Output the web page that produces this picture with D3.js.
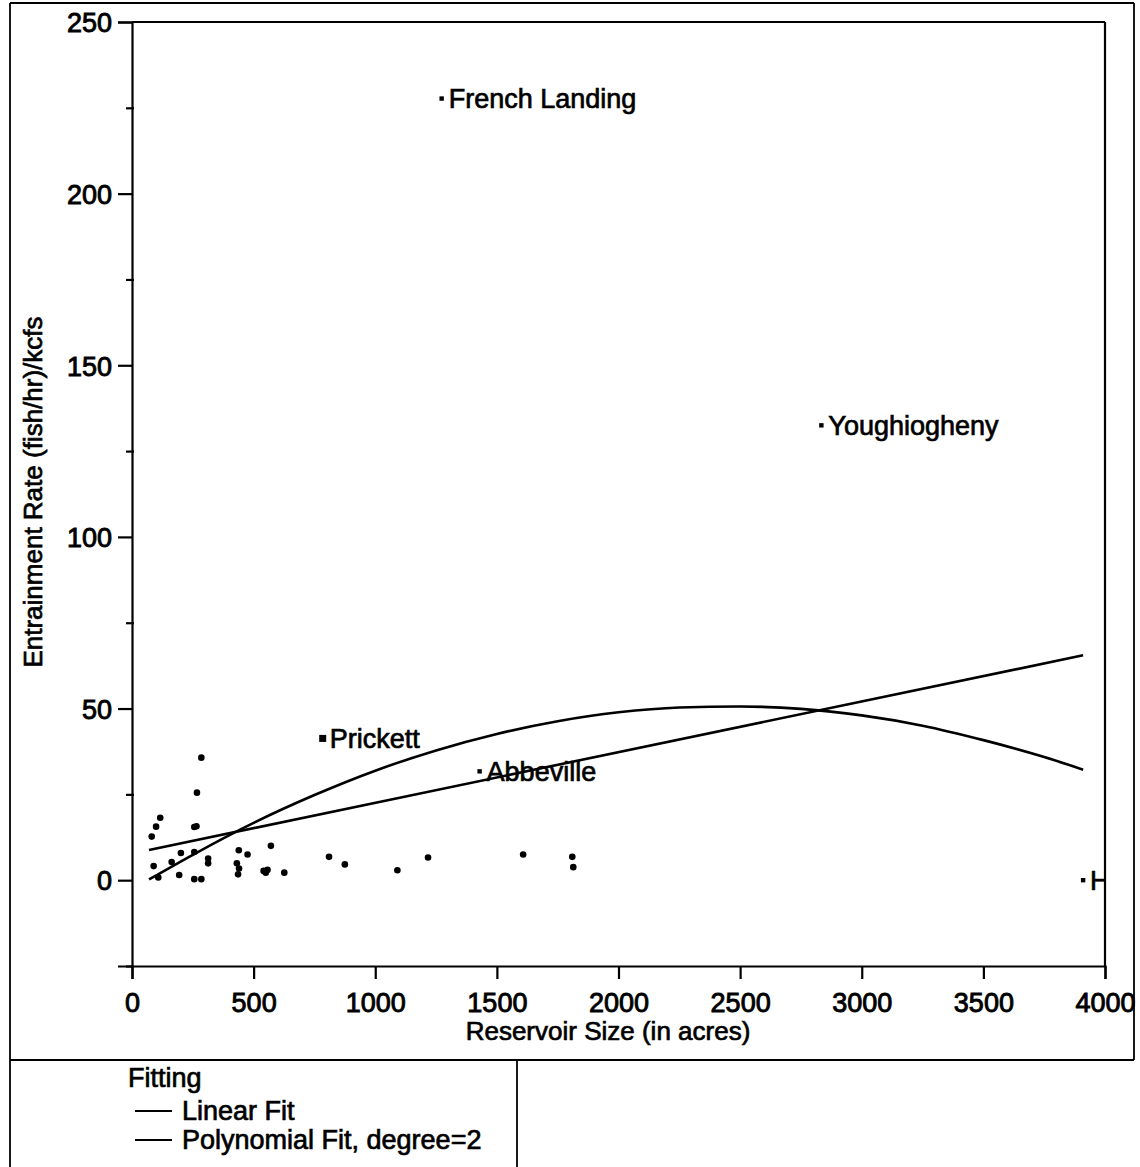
<!DOCTYPE html>
<html>
<head>
<meta charset="utf-8">
<script src="https://cdn.jsdelivr.net/npm/d3@7"></script>
<style>
  html, body { margin: 0; padding: 0; background: #fff; }
  svg text { font-family: "Liberation Sans", Arial, Helvetica, sans-serif; fill: #000; }
</style>
</head>
<body>
<svg id="chart" width="1140" height="1167"></svg>
<script>
// ---- data ----
const xTicks = [0, 500, 1000, 1500, 2000, 2500, 3000, 3500, 4000];
const yTicks = [0, 50, 100, 150, 200, 250];
const yMinorTicks = [-25, 25, 75, 125, 175, 225];

// unlabelled observations (reservoir size in acres, entrainment rate)
const pointX = [285, 267, 116, 99, 256, 265, 81, 201, 256, 89, 163, 108, 194, 256, 285,
                313, 313, 439, 475, 571, 431, 440, 436, 541, 550, 557, 626, 810, 875,
                1091, 1217, 1608, 1810, 1814];
const pointY = [35.7, 25.5, 18.2, 15.6, 15.5, 15.7, 12.7, 7.9, 8.2, 4.1, 5.3, 0.8, 1.5, 0.3, 0.3,
                6.3, 4.9, 8.7, 7.5, 10.0, 4.9, 3.4, 1.7, 2.7, 2.2, 3.0, 2.2, 6.8, 4.6,
                2.9, 6.6, 7.5, 6.8, 3.8];

// labelled observations
const labelNames = ["French Landing", "Youghiogheny", "Prickett", "Abbeville", "H"];
const labelX = [1273, 2834, 784, 1429, 3910];
const labelY = [227.7, 132.5, 41.3, 31.7, 0.0];

// fitted curves
const linearFitX = [70, 3910];
const linearFitY = [8.8, 65.5];
const polyFitX = [70, 250, 500, 750, 1000, 1250, 1500, 1750, 2000, 2250, 2500, 2750, 3000, 3250, 3500, 3750, 3910];
const polyFitY = [0.2, 7.4, 16.7, 24.8, 31.9, 37.8, 42.6, 46.3, 48.9, 50.3, 50.6, 49.9, 48.0, 45.0, 40.8, 35.9, 32.2];

const legendTitle = "Fitting";
const legendItems = ["Linear Fit", "Polynomial Fit, degree=2"];
const xTitle = "Reservoir Size (in acres)";
const yTitle = "Entrainment Rate (fish/hr)/kcfs";

// ---- drawing ----
const svg = d3.select("#chart");
const FONT = 27;
const TFONT = 26;
const pL = 132, pR = 1105, pT = 22, pB = 966;

const x = d3.scaleLinear().domain([0, 4000]).range([pL, pR]);
const y = d3.scaleLinear().domain([-25, 250]).range([pB, pT]);

// outer frames
const frame = svg.append("g").attr("fill", "none").attr("stroke", "#000").attr("stroke-width", 1.8);
frame.append("line").attr("x1", 10).attr("x2", 1134).attr("y1", 3).attr("y2", 3);
frame.append("line").attr("x1", 10).attr("x2", 10).attr("y1", 3).attr("y2", 1167);
frame.append("line").attr("x1", 1134).attr("x2", 1134).attr("y1", 3).attr("y2", 1060);
frame.append("line").attr("x1", 10).attr("x2", 1134).attr("y1", 1060).attr("y2", 1060);
frame.append("line").attr("x1", 517).attr("x2", 517).attr("y1", 1060).attr("y2", 1167);

// plot box top and right
frame.append("line").attr("x1", pL).attr("x2", pR).attr("y1", pT).attr("y2", pT).attr("stroke-width", 2.2);
frame.append("line").attr("x1", pR).attr("x2", pR).attr("y1", pT).attr("y2", pB).attr("stroke-width", 2.2);

// axes
const yAxis = svg.append("g").attr("transform", `translate(${pL},0)`)
  .call(d3.axisLeft(y).tickValues(yTicks).tickSize(14).tickPadding(6).tickFormat(d3.format("d")));
const yMinor = svg.append("g").attr("transform", `translate(${pL + 2},0)`)
  .call(d3.axisLeft(y).tickValues(yMinorTicks).tickSize(8).tickFormat(""));
yMinor.select(".domain").remove();

const xAxis = svg.append("g").attr("transform", `translate(0,${pB})`)
  .call(d3.axisBottom(x).tickValues(xTicks).tickSize(13).tickPadding(14).tickFormat(d3.format("d")));

[yAxis, xAxis, yMinor].forEach(g => {
  g.selectAll("path.domain").attr("stroke", "#000").attr("stroke-width", 2.2);
  g.selectAll(".tick line").attr("stroke", "#000").attr("stroke-width", 2.2);
  g.selectAll(".tick text").attr("font-size", FONT).attr("font-family", "Liberation Sans, Arial, sans-serif")
    .attr("fill", "#000").attr("stroke", "#000").attr("stroke-width", 0.9);
});
yAxis.selectAll(".tick text").attr("dy", "0.36em");

// axis titles
svg.append("text").attr("x", 608).attr("y", 1040)
  .attr("text-anchor", "middle").attr("font-size", TFONT)
  .attr("stroke", "#000").attr("stroke-width", 0.7).text(xTitle);
svg.append("text").attr("transform", `translate(42,492) rotate(-90)`)
  .attr("text-anchor", "middle").attr("font-size", TFONT)
  .attr("stroke", "#000").attr("stroke-width", 0.7).text(yTitle);

// clip region for plot contents
svg.append("clipPath").attr("id", "plotclip").append("rect")
  .attr("x", pL).attr("y", pT).attr("width", pR - pL).attr("height", pB - pT);
const plot = svg.append("g").attr("clip-path", "url(#plotclip)");

// fit lines
const linePts = linearFitX.map((v, i) => [v, linearFitY[i]]);
const polyPts = polyFitX.map((v, i) => [v, polyFitY[i]]);
const lineGen = d3.line().x(d => x(d[0])).y(d => y(d[1]));
plot.append("path").attr("d", lineGen(linePts)).attr("fill", "none").attr("stroke", "#000").attr("stroke-width", 2.6);
plot.append("path").attr("d", lineGen.curve(d3.curveMonotoneX)(polyPts)).attr("fill", "none").attr("stroke", "#000").attr("stroke-width", 2.6);

// points
plot.selectAll("circle.pt").data(pointX.map((v, i) => [v, pointY[i]])).join("circle")
  .attr("class", "pt").attr("cx", d => x(d[0])).attr("cy", d => y(d[1])).attr("r", 3.3).attr("fill", "#000");

// labelled points
const labelled = labelNames.map((n, i) => ({ name: n, x: labelX[i], y: labelY[i] }));
plot.selectAll("rect.lp").data(labelled).join("rect")
  .attr("class", "lp")
  .attr("x", d => x(d.x) - (d.name === "Prickett" ? 3.5 : 2.2))
  .attr("y", d => y(d.y) - (d.name === "Prickett" ? 3.5 : 2.2))
  .attr("width", d => d.name === "Prickett" ? 7 : 4.4)
  .attr("height", d => d.name === "Prickett" ? 7 : 4.4)
  .attr("fill", "#000");
plot.selectAll("text.lt").data(labelled).join("text")
  .attr("class", "lt")
  .attr("x", d => x(d.x) + 7).attr("y", d => y(d.y)).attr("dy", "0.36em")
  .attr("font-size", FONT).attr("stroke", "#000").attr("stroke-width", 0.7)
  .text(d => d.name);

// legend
const lg = svg.append("g");
lg.append("text").attr("x", 128).attr("y", 1087).attr("font-size", FONT)
  .attr("stroke", "#000").attr("stroke-width", 0.7).text(legendTitle);
legendItems.forEach((t, i) => {
  const yy = 1111 + i * 29;
  lg.append("line").attr("x1", 135).attr("x2", 172).attr("y1", yy).attr("y2", yy)
    .attr("stroke", "#000").attr("stroke-width", 2.2);
  lg.append("text").attr("x", 182).attr("y", yy + 9).attr("font-size", FONT)
    .attr("stroke", "#000").attr("stroke-width", 0.7).text(t);
});
</script>
</body>
</html>
